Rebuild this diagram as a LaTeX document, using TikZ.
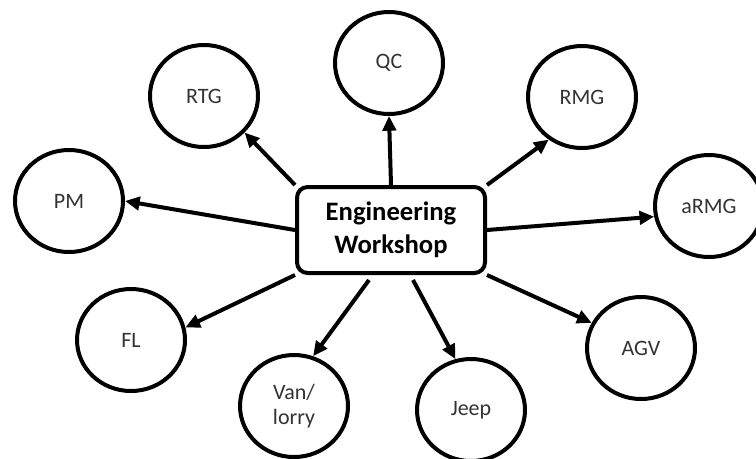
\documentclass[tikz,border=0pt]{standalone}
\usepackage{fontspec}
\setmainfont{Carlito}
\usetikzlibrary{arrows.meta,shapes.geometric}

\begin{document}
\begin{tikzpicture}
[x=0.75pt, y=-0.75pt, line width=3pt,
unit/.style={ellipse, draw, inner sep=0pt, minimum width=81pt, minimum height=76.5pt, text=black!80, font=\fontsize{16.5}{19}\selectfont, align=center},
shop/.style={rectangle, draw, rounded corners=8pt, inner sep=0pt, minimum width=141pt, minimum height=64.5pt, font=\fontsize{20}{25}\selectfont\bfseries, align=center},
feed/.style={-{Triangle[length=11pt,width=10pt]}, line width=3pt}]

\useasboundingbox (0,0) rectangle (756,458);

\node[shop] (ws) at (391,230) {Engineering\\Workshop};

\node[unit] (qc)   at (389,63)  {QC};
\node[unit] (rtg)  at (204,96)  {RTG};
\node[unit] (rmg)  at (582,97)  {RMG};
\node[unit] (pm)   at (69,201)  {PM};
\node[unit] (armg) at (709,206) {aRMG};
\node[unit] (fl)   at (131,340) {FL};
\node[unit] (van)  at (294,406) {Van/\\lorry};
\node[unit] (jeep) at (471,410) {Jeep};
\node[unit] (agv)  at (641,348) {AGV};

\draw[feed] (ws.north) -- (qc.south);
\draw[feed] (ws.north west) -- (rtg.-42);
\draw[feed] (ws.north east) -- (rmg.-128);
\draw[feed] (ws.east) -- (armg.-169);
\draw[feed] (ws.west) -- (pm.east);
\draw[feed] (ws.south west) -- (fl.13);
\draw[feed] ([xshift=-16.5pt,yshift=-3.75pt]ws.south) -- (van.69);
\draw[feed] ([xshift=16.5pt,yshift=-3.75pt]ws.south) -- (jeep.107);
\draw[feed] (ws.south east) -- (agv.153);
\end{tikzpicture}
\end{document}
